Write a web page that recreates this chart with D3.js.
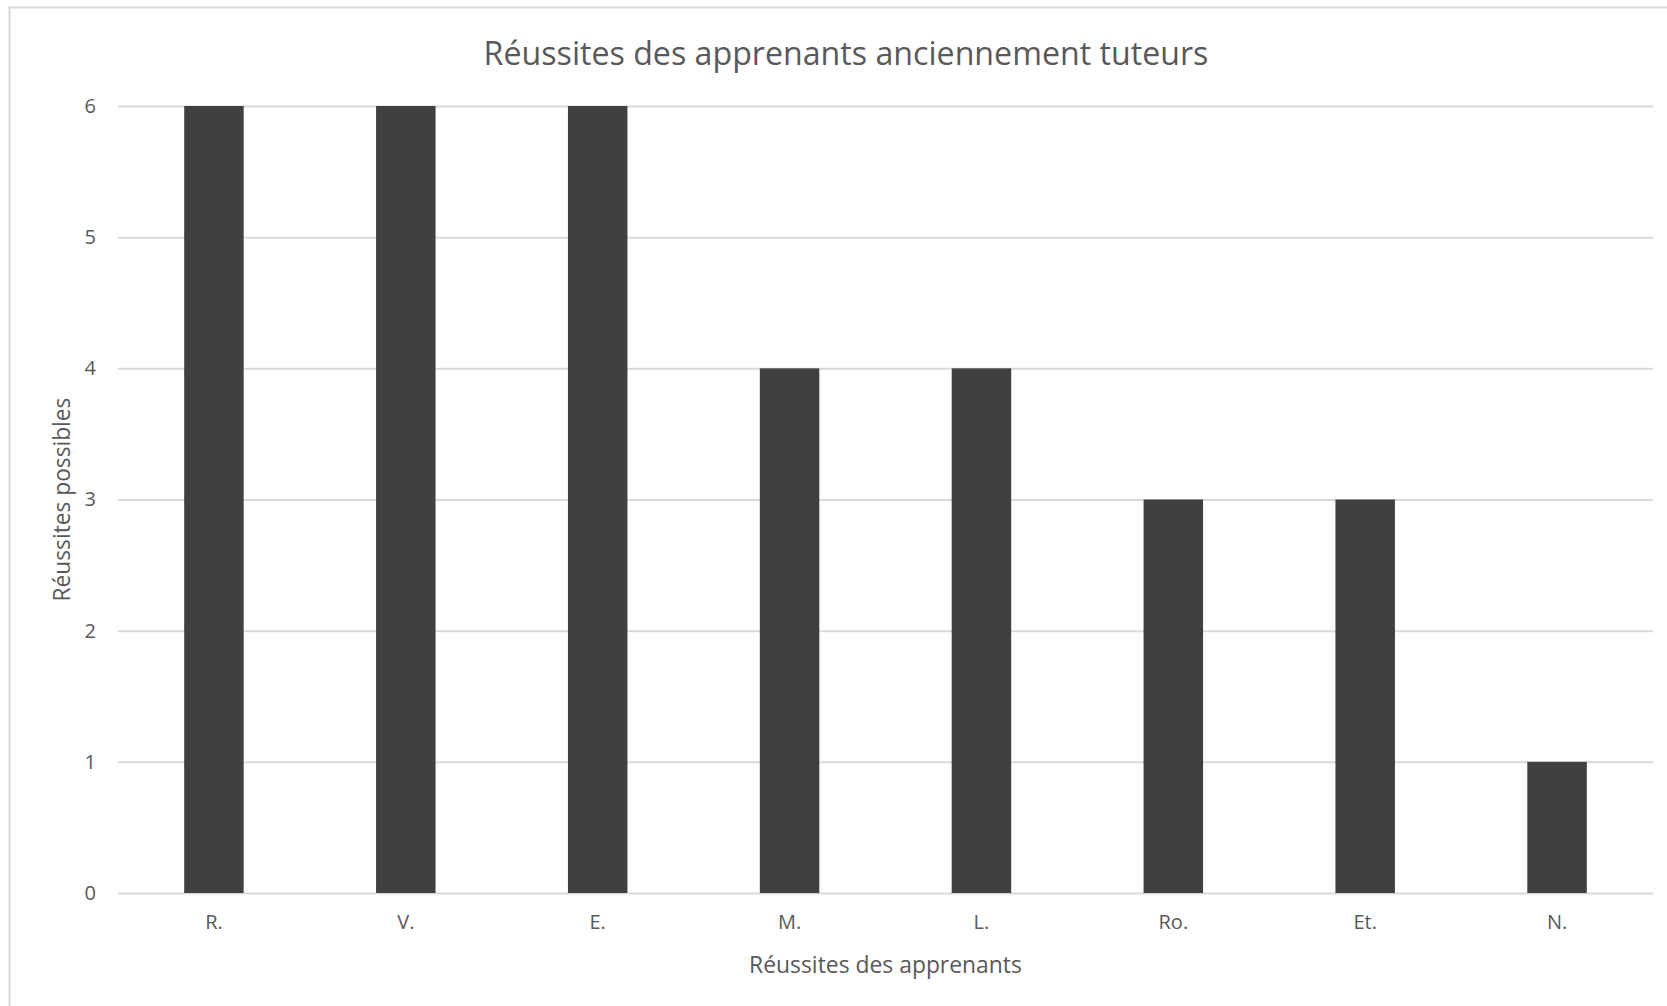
<!DOCTYPE html>
<html>
<head>
<meta charset="utf-8">
<script src="https://cdn.jsdelivr.net/npm/d3@7"></script>
<style>
  body { margin: 0; background: #fff; }
  svg { display: block; }
  text { font-family: "Open Sans", "Noto Sans", sans-serif; fill: #595959; }
</style>
</head>
<body>
<div id="chart"></div>
<script>
// data
const categories = ["R.", "V.", "E.", "M.", "L.", "Ro.", "Et.", "N."];
const values = [6, 6, 6, 4, 4, 3, 3, 1];
const yTicks = [0, 1, 2, 3, 4, 5, 6];
const chartTitle = "Réussites des apprenants anciennement tuteurs";
const xTitle = "Réussites des apprenants";
const yTitle = "Réussites possibles";

const width = 1667;
const height = 1006;
const plot = { left: 118, right: 1653, top: 106, bottom: 893 };

const svg = d3.select("#chart").append("svg")
  .attr("width", width)
  .attr("height", height);

// chart area border (runs off the right and bottom of the picture)
svg.append("rect")
  .attr("x", 9.5).attr("y", 7.5)
  .attr("width", 1700).attr("height", 1100)
  .attr("fill", "#fff")
  .attr("stroke", "#d9d9d9")
  .attr("stroke-width", 2);

const x = d3.scaleBand()
  .domain(categories)
  .range([plot.left, plot.right])
  .paddingInner(0.69)
  .paddingOuter(0.345);

const y = d3.scaleLinear()
  .domain([0, 6])
  .range([plot.bottom, plot.top]);

// gridlines
const grid = svg.append("g")
  .attr("transform", `translate(${plot.left},0)`)
  .call(d3.axisLeft(y).tickValues(yTicks).tickFormat("").tickSize(-(plot.right - plot.left)));
grid.select(".domain").remove();
grid.selectAll("line").attr("stroke", "#d9d9d9").attr("stroke-width", 2);

// bars
svg.append("g").selectAll("rect")
  .data(values)
  .join("rect")
  .attr("x", (d, i) => x(categories[i]))
  .attr("y", d => y(d))
  .attr("width", x.bandwidth())
  .attr("height", d => y(0) - y(d))
  .attr("fill", "#404040");

// y axis labels
const yAxis = svg.append("g")
  .attr("transform", `translate(${plot.left},0)`)
  .call(d3.axisLeft(y).tickValues(yTicks).tickFormat(d3.format("d")).tickSize(0).tickPadding(22));
yAxis.select(".domain").remove();
yAxis.selectAll("text")
  .style("font-size", "20px")
  .style("fill", "#595959");

// x axis labels
const xAxis = svg.append("g")
  .attr("transform", `translate(0,${plot.bottom})`)
  .call(d3.axisBottom(x).tickSize(0).tickPadding(22));
xAxis.select(".domain").remove();
xAxis.selectAll("text")
  .style("font-size", "20px")
  .style("fill", "#595959");

// shrink/grow the font so the text spans the same width as in the picture
function fitText(sel, target, start) {
  sel.style("font-size", start + "px");
  const w = sel.node().getComputedTextLength();
  sel.style("font-size", (start * target / w) + "px");
}

const title = svg.append("text")
  .attr("x", 846).attr("y", 52)
  .attr("text-anchor", "middle")
  .attr("dominant-baseline", "central")
  .text(chartTitle);
fitText(title, 725, 30);

const xt = svg.append("text")
  .attr("x", (plot.left + plot.right) / 2).attr("y", 964)
  .attr("text-anchor", "middle")
  .attr("dominant-baseline", "central")
  .text(xTitle);
fitText(xt, 273, 21);

const yt = svg.append("text")
  .attr("transform", `translate(61,${(plot.top + plot.bottom) / 2}) rotate(-90)`)
  .attr("text-anchor", "middle")
  .attr("dominant-baseline", "central")
  .text(yTitle);
fitText(yt, 204, 21);
</script>
</body>
</html>
